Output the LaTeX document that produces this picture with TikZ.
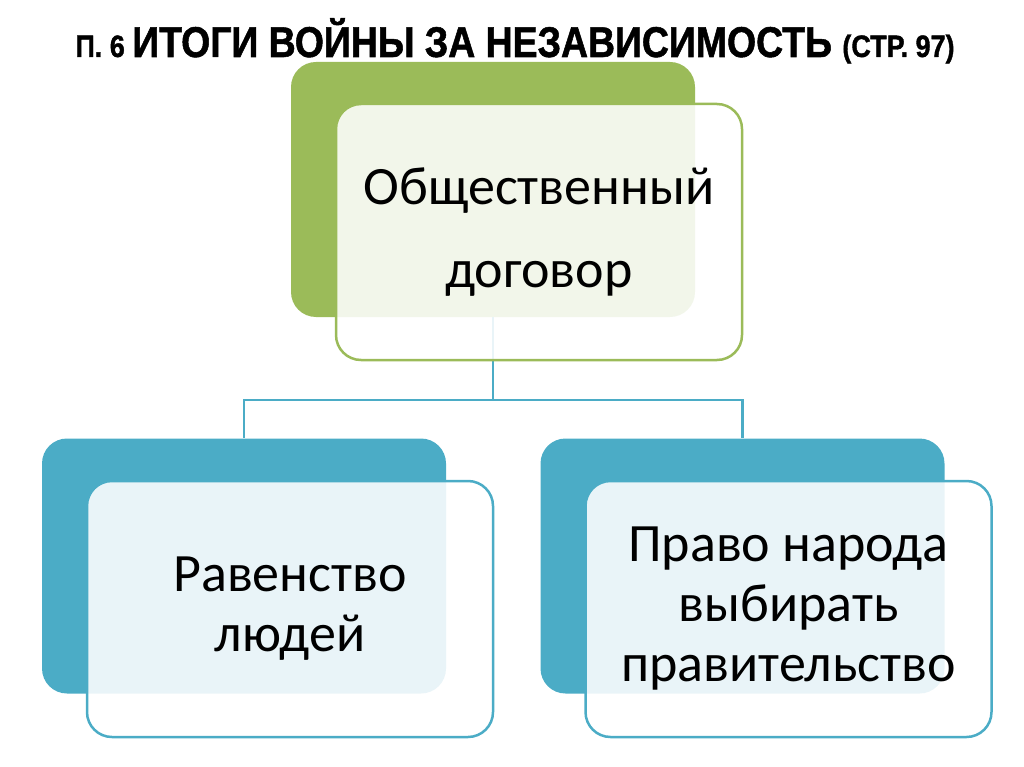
\documentclass[tikz,border=0pt]{standalone}
\usepackage{fontspec}
\setmainfont{Carlito}
\newfontfamily\titlefont[FakeStretch=0.87, BoldFeatures={FakeBold=1.2}]{Liberation Sans}
\definecolor{gback}{HTML}{9BBB59}
\definecolor{bback}{HTML}{4BACC6}
\tikzset{
  backbox/.style={rounded corners=25pt, minimum width=404pt, minimum height=255pt, inner sep=0pt},
  frontbox/.style={rounded corners=25pt, line width=2.5pt, fill=white, fill opacity=0.88, text opacity=1, minimum width=406pt, minimum height=256pt, inner sep=0pt, align=center, text=black},
  conn/.style={draw=bback, line width=2.5pt},
}
\begin{document}
\begin{tikzpicture}[x=1pt,y=-1pt]
\useasboundingbox (0,0) rectangle (1024,767);
\node[anchor=base] (title) at (515,57) {\titlefont\bfseries{\fontsize{31}{31}\selectfont П. 6 }{\fontsize{43}{43}\selectfont ИТОГИ ВОЙНЫ ЗА НЕЗАВИСИМОСТЬ }{\fontsize{31}{31}\selectfont (СТР. 97)}};
% back boxes
\node[backbox, fill=gback] (gb) at (493,189.5) {};
\node[backbox, fill=bback] (lb) at (244,566) {};
\node[backbox, fill=bback] (rb) at (742.5,566) {};
% connectors
\coordinate (j) at (493,400);
\draw[conn] (gb.south) -- (j);
\draw[conn] (j) -| (lb.north);
\draw[conn] (j) -| (rb.north);
% front boxes
\node[frontbox, draw=gback, font=\fontsize{54}{83}\selectfont] (gf) at (539,232) {Общественный\\договор};
\node[frontbox, draw=bback, font=\fontsize{54}{60}\selectfont] (lf) at (290,609) {Равенство\\людей};
\node[frontbox, draw=bback, font=\fontsize{54}{60}\selectfont] (rf) at (788.5,609) {Право народа\\выбирать\\правительство};
\end{tikzpicture}
\end{document}
